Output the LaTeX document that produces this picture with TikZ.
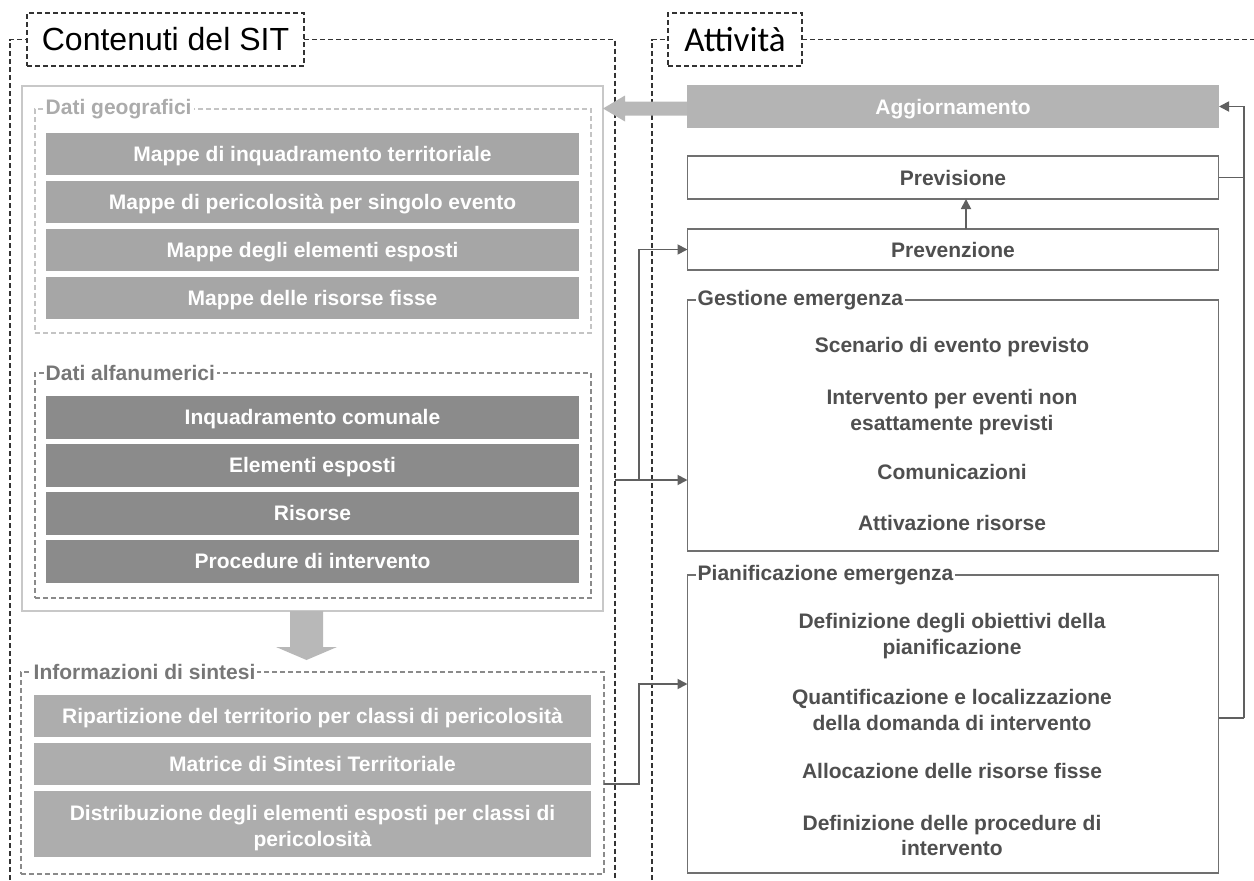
\documentclass[tikz,border=0pt]{standalone}
\usepackage{fontspec}
\setmainfont{Liberation Sans}
\newfontfamily\carlito{Carlito}
\usetikzlibrary{arrows.meta,calc}
\definecolor{frameC}{HTML}{333333}
\definecolor{geoD}{HTML}{C4C4C4}
\definecolor{geoL}{HTML}{ABABAB}
\definecolor{alfaD}{HTML}{8A8A8A}
\definecolor{lblC}{HTML}{777777}
\definecolor{sitC}{HTML}{C8C8C8}
\definecolor{mapF}{HTML}{A6A6A6}
\definecolor{alfaF}{HTML}{8B8B8B}
\definecolor{infoF}{HTML}{ADADAD}
\definecolor{aggF}{HTML}{B4B4B4}
\definecolor{arrF}{HTML}{B8B8B8}
\definecolor{rbC}{HTML}{707070}
\definecolor{rtC}{HTML}{4F4F4F}
\definecolor{connC}{HTML}{606060}
\newcommand\itemfont{\fontsize{21}{25.5}\selectfont\bfseries}
\begin{document}
\begin{tikzpicture}[x=1pt,y=-1pt,
  frame/.style={draw=frameC, dash pattern=on 5pt off 3pt, line width=1.4pt},
  titlebox/.style={frame, fill=white, inner sep=0pt, outer sep=0pt},
  dbox/.style={dash pattern=on 5pt off 3pt, line width=1.4pt, inner sep=0pt, outer sep=0pt},
  oneline/.style={text height=15.2pt, text depth=0pt},
  gbox/.style={draw=none, text=white, font=\itemfont, inner sep=0pt, outer sep=0pt, align=center},
  rbox/.style={draw=rbC, line width=1.5pt, fill=white, text=rtC, font=\itemfont, inner sep=0pt, outer sep=0pt, minimum width=531pt},
  ritem/.style={text=rtC, font=\itemfont, align=center, inner sep=0pt},
  lbl/.style={fill=white, font=\itemfont, inner sep=2pt, anchor=west},
  conn/.style={draw=connC, line width=1.8pt},
  tip/.style={-{Triangle[length=10pt,width=10pt]}},
  bigarrow/.style={fill=arrF}
]
\useasboundingbox (0,0) rectangle (1254,881);

% ---------- left panel ----------
\node[titlebox, minimum width=277pt, minimum height=53pt, font=\fontsize{32}{36}\selectfont] (titleL) at (165.5,39.5) {Contenuti del SIT};
\draw[frame] (10,880) -- (10,39.5) -- (titleL.west);
\draw[frame] (titleL.east) -- (615,39.5) -- (615,880);

\node[draw=sitC, line width=2pt, minimum width=581pt, minimum height=525pt, inner sep=0pt, outer sep=0pt] (sit) at (312.5,348.5) {};

\node[dbox, draw=geoD, minimum width=556pt, minimum height=224pt] (geo) at (313,221) {};
\node[lbl, text=geoL] (geoT) at (43.5,109) {Dati geografici};
\node[gbox, oneline, fill=mapF, minimum width=533pt, minimum height=42pt] (m1) at (312.5,154) {Mappe di inquadramento territoriale};
\node[gbox, oneline, fill=mapF, minimum width=533pt, minimum height=42pt] (m2) at (312.5,202) {Mappe di pericolosità per singolo evento};
\node[gbox, oneline, fill=mapF, minimum width=533pt, minimum height=42pt] (m3) at (312.5,250) {Mappe degli elementi esposti};
\node[gbox, oneline, fill=mapF, minimum width=533pt, minimum height=42pt] (m4) at (312.5,298) {Mappe delle risorse fisse};

\node[dbox, draw=alfaD, minimum width=556pt, minimum height=225pt] (alfa) at (313,485.5) {};
\node[lbl, text=lblC] (alfaT) at (43.5,373) {Dati alfanumerici};
\node[gbox, oneline, fill=alfaF, minimum width=533pt, minimum height=43pt] (a1) at (312.5,417) {Inquadramento comunale};
\node[gbox, oneline, fill=alfaF, minimum width=533pt, minimum height=43pt] (a2) at (312.5,465) {Elementi esposti};
\node[gbox, oneline, fill=alfaF, minimum width=533pt, minimum height=43pt] (a3) at (312.5,513) {Risorse};
\node[gbox, oneline, fill=alfaF, minimum width=533pt, minimum height=43pt] (a4) at (312.5,561) {Procedure di intervento};

% down arrow
\coordinate (da) at ($(sit.south)+(-6,0)$);
\fill[bigarrow] ($(da)+(-16.5,0)$) -- ($(da)+(16.5,0)$) -- ($(da)+(16.5,36)$) -- ($(da)+(30.5,36)$)
  -- ($(da)+(0,49)$) -- ($(da)+(-30.5,36)$) -- ($(da)+(-16.5,36)$) -- cycle;

\node[dbox, draw=alfaD, minimum width=583pt, minimum height=202pt] (info) at (312.5,773) {};
\node[lbl, text=lblC] (infoT) at (31.5,672) {Informazioni di sintesi};
\node[gbox, oneline, fill=infoF, minimum width=557pt, minimum height=42pt] (i1) at (312.5,716) {Ripartizione del territorio per classi di pericolosità};
\node[gbox, oneline, fill=infoF, minimum width=557pt, minimum height=42pt] (i2) at (312.5,764) {Matrice di Sintesi Territoriale};
\node[gbox, fill=infoF, minimum width=557pt, minimum height=66pt] (i3) at (312.5,824) {};
\node[gbox] (i3t) at (312.5,828) {Distribuzione degli elementi esposti per classi di\\pericolosità};

% ---------- right panel ----------
\node[titlebox, minimum width=134pt, minimum height=53pt, font=\carlito\fontsize{35}{38}\selectfont] (titleR) at (735,39.5) {Attività};
\draw[frame] (652,880) -- (652,39.5) -- (titleR.west);
\draw[frame] (titleR.east) -- (1254,39.5);

\node[gbox, oneline, fill=aggF, minimum width=532pt, minimum height=43pt] (agg) at (953,106.5) {Aggiornamento};
\node[rbox, oneline, minimum height=43pt] (prev) at (953,177.5) {Previsione};
\node[rbox, oneline, minimum height=41pt] (pvz) at (953,249.5) {Prevenzione};

\node[rbox, minimum height=251pt] (gest) at (953,425.5) {};
\node[lbl, text=rtC] (gestT) at (695.5,300) {Gestione emergenza};
\node[ritem, oneline] (g1) at (952,345) {Scenario di evento previsto};
\node[ritem] (g2) at (952,412) {Intervento per eventi non\\esattamente previsti};
\node[ritem, oneline] (g3) at (952,472) {Comunicazioni};
\node[ritem, oneline] (g4) at (952,523) {Attivazione risorse};

\node[rbox, minimum height=298pt] (pian) at (953,724) {};
\node[lbl, text=rtC] (pianT) at (695.5,575) {Pianificazione emergenza};
\node[ritem] (p1) at (952,636) {Definizione degli obiettivi della\\pianificazione};
\node[ritem] (p2) at (952,710) {Quantificazione e localizzazione\\della domanda di intervento};
\node[ritem, oneline] (p3) at (952,771) {Allocazione delle risorse fisse};
\node[ritem] (p4) at (952,835.5) {Definizione delle procedure di\\intervento};

% left big arrow (Aggiornamento -> Dati geografici)
\coordinate (la) at ($(agg.west)+(0,2)$);
\fill[bigarrow] ($(la)+(0,-7)$) -- ($(la)+(-62,-7)$) -- ($(la)+(-62,-13)$) -- ($(la)+(-84,0)$)
  -- ($(la)+(-62,13)$) -- ($(la)+(-62,7)$) -- ($(la)+(0,7)$) -- cycle;

% ---------- connectors ----------
\draw[conn,tip] ([xshift=13pt]pvz.north) -- ([xshift=13pt]prev.south);

\coordinate (gsrc) at (615,480);
\coordinate (jn) at (639,480);
\draw[conn,tip] (gsrc) -- (gsrc -| gest.west);
\draw[conn,tip] (jn) |- (pvz.west);

\coordinate (bsrc) at (604,784);
\coordinate (bj) at (639,684);
\draw[conn,tip] (bsrc) -| (bj) -- (bj -| pian.west);

\coordinate (rj) at (1244,718);
\draw[conn] (pian.east |- rj) -- (rj);
\draw[conn] (prev.east) -- (prev.east -| rj);
\draw[conn,tip] (rj) |- (agg.east);
\end{tikzpicture}
\end{document}
